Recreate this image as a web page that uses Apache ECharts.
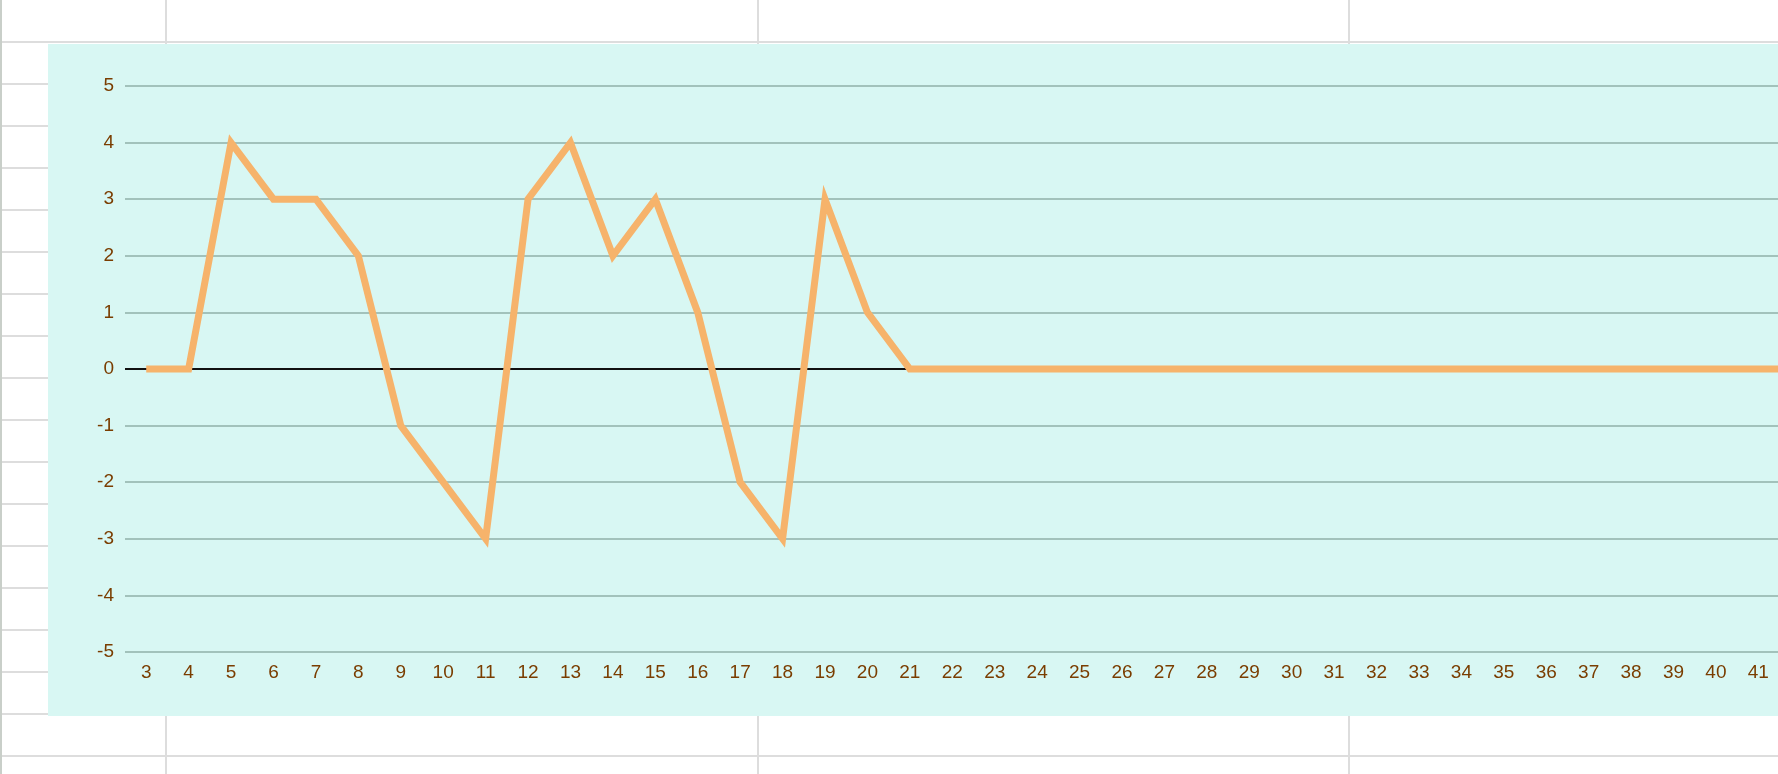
<!DOCTYPE html>
<html>
<head>
<meta charset="utf-8">
<script src="https://cdn.jsdelivr.net/npm/echarts@6/dist/echarts.min.js"></script>
<style>
  html, body { margin: 0; padding: 0; width: 1778px; height: 774px; overflow: hidden; background: #ffffff; }
  #sheet { position: absolute; left: 0; top: 0; width: 1778px; height: 774px; }
  #chart { position: absolute; left: 48px; top: 44px; width: 1774px; height: 672px; background: #d8f7f3; }
</style>
</head>
<body>
<div id="sheet"></div>
<div id="chart"></div>
<script>
// ---- data ----
const categories = ['3','4','5','6','7','8','9','10','11','12','13','14','15','16','17','18','19','20','21','22','23','24','25','26','27','28','29','30','31','32','33','34','35','36','37','38','39','40','41','42'];
const values = [0,0,4,3,3,2,-1,-2,-3,3,4,2,3,1,-2,-3,3,1,0,0,0,0,0,0,0,0,0,0,0,0,0,0,0,0,0,0,0,0,0,0];
const yTicks = [-5,-4,-3,-2,-1,0,1,2,3,4,5];

// ---- spreadsheet background grid ----
(function drawSheet(){
  const sheet = document.getElementById('sheet');
  const rowYs = [];
  for (let y = 41; y < 774; y += 42) rowYs.push(y);
  const colXs = [165, 757, 1348];
  rowYs.forEach(y => {
    const d = document.createElement('div');
    d.style.cssText = 'position:absolute;left:0;width:1778px;height:2px;background:#dddddd;top:' + y + 'px';
    sheet.appendChild(d);
  });
  colXs.forEach(x => {
    const d = document.createElement('div');
    d.style.cssText = 'position:absolute;top:0;height:774px;width:2px;background:#dddddd;left:' + x + 'px';
    sheet.appendChild(d);
  });
  const b = document.createElement('div');
  b.style.cssText = 'position:absolute;top:0;left:0;height:774px;width:2px;background:#c9cfc9';
  sheet.appendChild(b);
})();

const grid = '#a2c2bb';
const splitColors = yTicks.map(v => v === 0 ? '#111111' : grid);

const chart = echarts.init(document.getElementById('chart'), null, { renderer: 'canvas' });
chart.setOption({
  backgroundColor: 'transparent',
  animation: false,
  grid: { left: 77, right: 0, top: 42, bottom: 64, containLabel: false },
  xAxis: {
    type: 'category',
    data: categories,
    boundaryGap: true,
    axisLine: { show: false },
    axisTick: { show: false },
    axisLabel: { color: '#7a3d00', fontSize: 19, fontFamily: 'Liberation Sans, Arial, sans-serif', margin: 11, interval: 0 },
    splitLine: { show: false }
  },
  yAxis: {
    type: 'value',
    min: -5, max: 5, interval: 1,
    axisLine: { show: false },
    axisTick: { show: false },
    axisLabel: { color: '#7a3d00', fontSize: 19, fontFamily: 'Liberation Sans, Arial, sans-serif', margin: 11 },
    splitLine: { show: true, lineStyle: { color: splitColors, width: 2 } }
  },
  series: [{
    type: 'line',
    data: values,
    symbol: 'none',
    lineStyle: { color: '#f6b36b', width: 7, join: 'miter', cap: 'butt' },
    itemStyle: { color: '#f6b36b' }
  }]
});
</script>
</body>
</html>
